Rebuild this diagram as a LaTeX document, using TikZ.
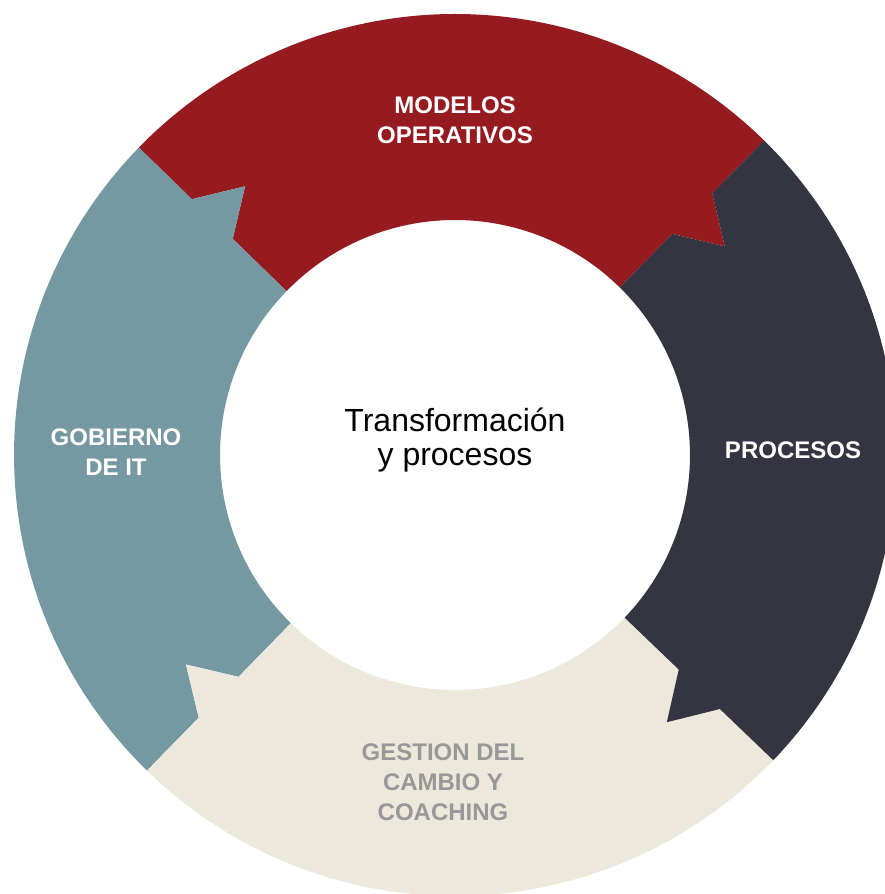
\documentclass[tikz,border=0pt]{standalone}
\usepackage{fontspec}
\setmainfont{Liberation Sans}
\usepackage{tikz}
\definecolor{ringred}{RGB}{149,27,32}
\definecolor{ringdark}{RGB}{52,53,65}
\definecolor{ringblue}{RGB}{117,152,163}
\definecolor{ringbeige}{RGB}{236,232,220}
\definecolor{labelgray}{RGB}{152,152,152}

\begin{document}
\begin{tikzpicture}[x=1pt,y=1pt,
  seglabel/.style={font=\fontsize{24}{30}\selectfont\bfseries,align=center,inner sep=0pt},
  corelabel/.style={font=\fontsize{32}{34}\selectfont,align=center,inner sep=0pt}]
% Ring of four arrow segments
\fill[white] (0,0) rectangle (885,894);
\useasboundingbox (0,0) rectangle (885,894);
\clip (0,0) rectangle (885,894);
\begin{scope}[shift={(455,439)}]
\foreach \h/\t/\c in {45.5/135.8/ringred, 135.8/225.7/ringblue, 225.7/316.2/ringbeige, -43.8/45.5/ringdark}
  \fill[\c] (\h:441pt) -- (\h:367pt) -- ({\h-7.8}:341pt) -- (\h:310pt) -- (\h:235pt)
    arc[start angle=\h, end angle=\t, radius=235pt]
    -- (\t:310pt) -- ({\t-7.8}:341pt) -- (\t:367pt) -- (\t:441pt)
    arc[start angle=\t, end angle=\h, radius=441pt] -- cycle;
\end{scope}

\node[corelabel] (core) at (455,454) {Transformación\\y procesos};
\node[seglabel,text=white] (modelos) at (455,774) {MODELOS\\OPERATIVOS};
\node[seglabel,text=white] (procesos) at (793,444) {PROCESOS};
\node[seglabel,text=white] (gobierno) at (116,441.5) {GOBIERNO\\DE IT};
\node[seglabel,text=labelgray] (gestion) at (443,112) {GESTION DEL\\CAMBIO Y\\COACHING};
\end{tikzpicture}
\end{document}
